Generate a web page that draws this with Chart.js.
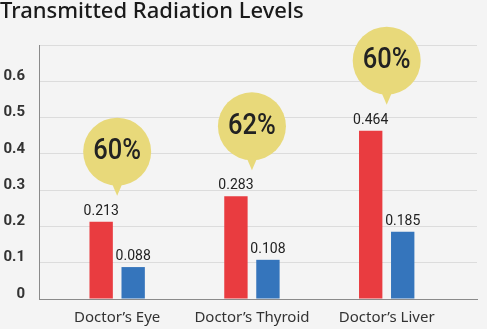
<!DOCTYPE html>
<html>
<head>
<meta charset="utf-8">
<script src="https://cdn.jsdelivr.net/npm/chart.js@4.4.1/dist/chart.umd.min.js"></script>
<style>
  html, body { margin: 0; padding: 0; background: #f4f4f4; }
  canvas { display: block; }
</style>
</head>
<body>
<canvas id="chart" width="487" height="329"></canvas>
<script>
  // Data
  const categories = ['Doctor\u2019s Eye', 'Doctor\u2019s Thyroid', 'Doctor\u2019s Liver'];
  const beforeValues = [0.213, 0.283, 0.464];
  const afterValues = [0.088, 0.108, 0.185];
  const reductionLabels = ['60%', '62%', '60%'];
  const yTickValues = [0, 0.1, 0.2, 0.3, 0.4, 0.5, 0.6, 0.7];
  const yTickLabels = ['0', '0.1', '0.2', '0.3', '0.4', '0.5', '0.6', ''];

  const RED = '#e93c40';
  const BLUE = '#3575bc';
  const BUBBLE = '#e8d97a';
  const TEXT = '#222';

  const valueLabels = {
    id: 'valueLabels',
    afterDatasetsDraw(chart) {
      const { ctx } = chart;
      ctx.save();
      ctx.font = '14px Roboto';
      ctx.fillStyle = TEXT;
      ctx.textAlign = 'center';
      ctx.textBaseline = 'alphabetic';
      chart.data.datasets.forEach((ds, di) => {
        chart.getDatasetMeta(di).data.forEach((bar, i) => {
          ctx.fillText(ds.data[i].y.toFixed(3), bar.x, bar.y - 7);
        });
      });
      ctx.restore();
    },
  };

  const bubbles = {
    id: 'bubbles',
    afterDatasetsDraw(chart) {
      const { ctx } = chart;
      const xScale = chart.scales.x;
      const r = 34;
      ctx.save();
      chart.getDatasetMeta(0).data.forEach((bar, i) => {
        const cx = xScale.getPixelForValue(i);
        const tipY = bar.y - 26;
        const cy = tipY - 44;
        ctx.fillStyle = BUBBLE;
        ctx.beginPath();
        ctx.arc(cx, cy, r, 0, Math.PI * 2);
        ctx.fill();
        ctx.beginPath();
        ctx.moveTo(cx - 6, cy + r - 4);
        ctx.lineTo(cx + 6, cy + r - 4);
        ctx.lineTo(cx, tipY);
        ctx.closePath();
        ctx.fill();

        ctx.save();
        ctx.translate(cx, cy);
        ctx.scale(0.85, 1);
        ctx.fillStyle = TEXT;
        ctx.font = '500 30px Roboto';
        ctx.textAlign = 'center';
        ctx.textBaseline = 'middle';
        ctx.fillText(reductionLabels[i], 0, 0);
        ctx.restore();
      });
      ctx.restore();
    },
  };

  new Chart(document.getElementById('chart'), {
    type: 'bar',
    data: {
      datasets: [
        {
          label: 'Without shield',
          data: categories.map((c, i) => ({ x: i, y: beforeValues[i] })),
          backgroundColor: RED,
        },
        {
          label: 'With shield',
          data: categories.map((c, i) => ({ x: i, y: afterValues[i] })),
          backgroundColor: BLUE,
        },
      ],
    },
    options: {
      responsive: false,
      animation: false,
      categoryPercentage: 0.475,
      barPercentage: 0.73,
      layout: { padding: { left: 0, right: 10, top: 0, bottom: 0 } },
      plugins: {
        legend: { display: false },
        tooltip: { enabled: false },
        title: {
          display: true,
          text: 'Transmitted Radiation Levels',
          align: 'start',
          color: '#1a1a1a',
          font: { family: 'Noto Sans', size: 22, weight: '500', lineHeight: 1 },
          padding: { top: 1, bottom: 22 },
        },
      },
      scales: {
        x: {
          type: 'linear',
          offset: false,
          min: -0.58,
          max: 2.67,
          afterBuildTicks: (scale) => {
            scale.ticks = categories.map((c, i) => ({ value: i }));
          },
          afterFit: (scale) => { scale.height = 30; },
          grid: { display: false, drawTicks: false, offset: false },
          border: { color: '#8a8a8a', width: 1 },
          ticks: {
            autoSkip: false,
            maxRotation: 0,
            padding: 10,
            color: '#333',
            font: { family: 'Noto Sans', size: 15 },
            callback: (v) => categories[v],
          },
        },
        y: {
          min: 0,
          max: 0.7,
          afterBuildTicks: (scale) => {
            scale.ticks = yTickValues.map((v) => ({ value: v }));
          },
          afterFit: (scale) => { scale.width = 39; },
          grid: { color: '#dcdcdc', drawTicks: false },
          border: { color: '#8a8a8a', width: 1 },
          ticks: {
            padding: 14,
            labelOffset: -5,
            color: '#333',
            font: { family: 'Roboto', size: 15, weight: 'bold' },
            callback: (v, i) => yTickLabels[i],
          },
        },
      },
    },
    plugins: [valueLabels, bubbles],
  });
</script>
</body>
</html>
